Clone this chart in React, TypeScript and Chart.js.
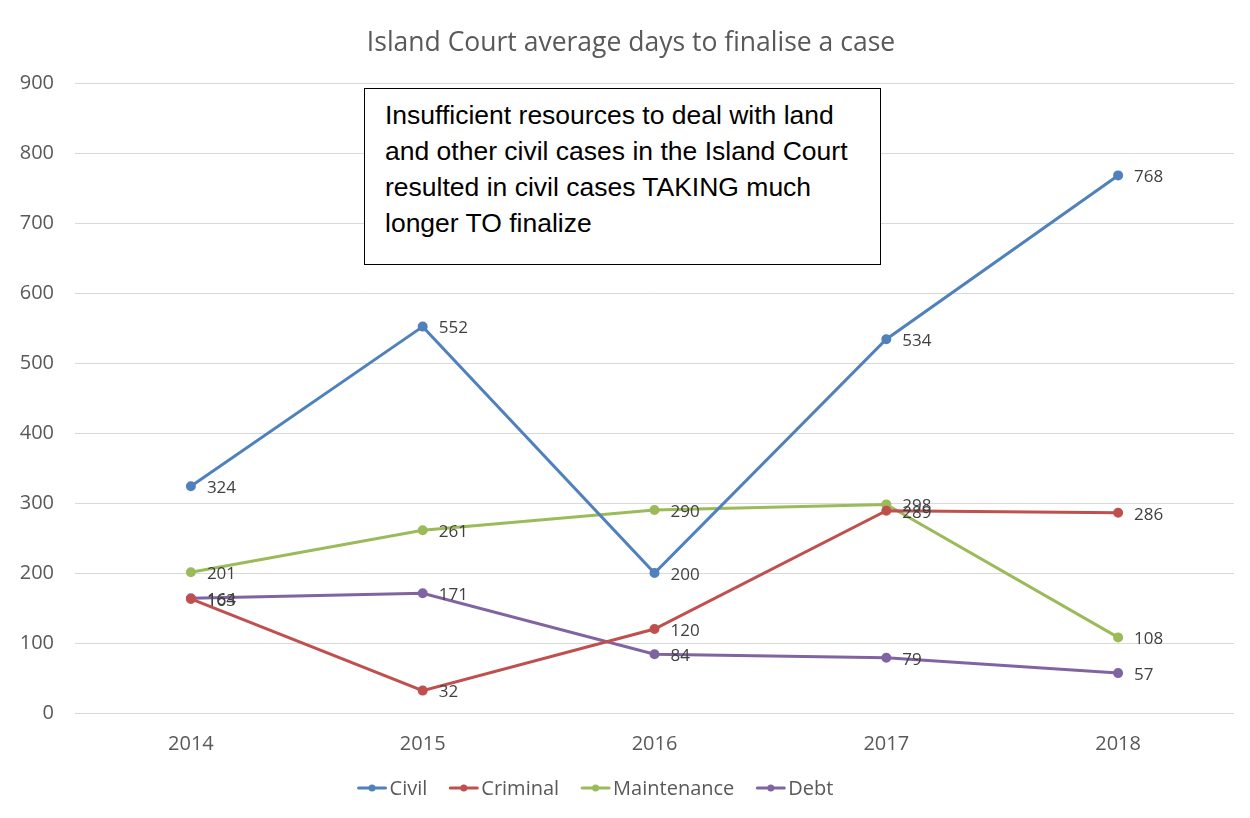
import React, { useEffect, useRef } from "react";
import { Chart, registerables } from "chart.js";

Chart.register(...registerables);

const years = ["2014", "2015", "2016", "2017", "2018"];
const civil = [324, 552, 200, 534, 768];
const criminal = [163, 32, 120, 289, 286];
const maintenance = [201, 261, 290, 298, 108];
const debt = [164, 171, 84, 79, 57];
const yTicks = [0, 100, 200, 300, 400, 500, 600, 700, 800, 900];

const seriesNames = ["Civil", "Criminal", "Maintenance", "Debt"];
const seriesColors = ["#4f81bd", "#c0504d", "#9bbb59", "#8064a2"];

const titleText = "Island Court average days to finalise a case";
const noteLines = [
  "Insufficient resources to deal with land",
  "and other civil cases in the Island Court",
  "resulted in civil cases TAKING much",
  "longer TO finalize",
];

const FONT = "'Open Sans', sans-serif";

const dataLabelPlugin = {
  id: "dataLabels",
  afterDatasetsDraw(chart: any) {
    const ctx = chart.ctx;
    ctx.save();
    ctx.font = `17px ${FONT}`;
    ctx.fillStyle = "#404040";
    ctx.textAlign = "left";
    ctx.textBaseline = "middle";
    chart.data.datasets.forEach((ds: any, di: number) => {
      const meta = chart.getDatasetMeta(di);
      meta.data.forEach((pt: any, i: number) => {
        ctx.fillText(String(ds.data[i]), pt.x + 16, pt.y + 2);
      });
    });
    ctx.restore();
  },
};

// Title drawn at the reference's (slightly off-centre) position.
const titlePlugin = {
  id: "offsetTitle",
  afterDraw(chart: any) {
    const ctx = chart.ctx;
    ctx.save();
    ctx.font = `26.5px ${FONT}`;
    ctx.fillStyle = "#595959";
    ctx.textAlign = "center";
    ctx.textBaseline = "middle";
    ctx.fillText(titleText, 623, 35);
    ctx.restore();
  },
};

// Legend drawn as line-with-dot markers, centred like the reference.
const legendPlugin = {
  id: "lineLegend",
  afterDraw(chart: any) {
    const ctx = chart.ctx;
    ctx.save();
    ctx.font = `20px ${FONT}`;
    ctx.textBaseline = "middle";
    ctx.textAlign = "left";
    const markerW = 29;
    const gapText = 3;
    const gapItem = 22;
    const widths = chart.data.datasets.map(
      (ds: any) => markerW + gapText + ctx.measureText(ds.label).width
    );
    const total =
      widths.reduce((a: number, b: number) => a + b, 0) +
      gapItem * (widths.length - 1);
    const centerX = 587.5;
    const y = 780;
    let x = centerX - total / 2;
    chart.data.datasets.forEach((ds: any, i: number) => {
      const color = ds.borderColor;
      ctx.strokeStyle = color;
      ctx.lineWidth = 3;
      ctx.lineCap = "round";
      ctx.beginPath();
      ctx.moveTo(x + 1, y);
      ctx.lineTo(x + markerW - 1, y);
      ctx.stroke();
      ctx.fillStyle = color;
      ctx.beginPath();
      ctx.arc(x + markerW / 2, y, 3.5, 0, Math.PI * 2);
      ctx.fill();
      ctx.fillStyle = "#595959";
      ctx.fillText(ds.label, x + markerW + gapText, y + 1);
      x += widths[i] + gapItem;
    });
    ctx.restore();
  },
};

export default function App() {
  const ref = useRef<HTMLCanvasElement | null>(null);

  useEffect(() => {
    if (!ref.current) return;
    const all = [civil, criminal, maintenance, debt];
    const chart = new Chart(ref.current, {
      type: "line",
      data: {
        labels: years,
        datasets: all.map((d, i) => ({
          label: seriesNames[i],
          data: d,
          borderColor: seriesColors[i],
          backgroundColor: seriesColors[i],
          pointBackgroundColor: seriesColors[i],
          pointBorderColor: seriesColors[i],
          pointStyle: "circle",
          borderWidth: 3,
          pointRadius: 3.5,
          tension: 0,
          fill: false,
        })),
      },
      options: {
        animation: false,
        responsive: false,
        maintainAspectRatio: false,
        layout: { padding: { top: 75, left: 0, right: 17, bottom: 63 } },
        plugins: {
          title: { display: false },
          legend: { display: false },
          tooltip: { enabled: false },
        },
        scales: {
          x: {
            offset: true,
            grid: { display: false, drawTicks: false },
            border: { display: false },
            afterFit: (scale: any) => {
              scale.height = 43;
            },
            ticks: {
              color: "#595959",
              font: { family: FONT, size: 20 },
              padding: 19,
            },
          },
          y: {
            min: 0,
            max: 900,
            afterBuildTicks: (scale: any) => {
              scale.ticks = yTicks.map((v) => ({ value: v }));
            },
            afterFit: (scale: any) => {
              scale.width = 67;
            },
            grid: { color: "#d9d9d9", lineWidth: 1, drawTicks: false },
            border: { display: false },
            ticks: {
              color: "#595959",
              font: { family: FONT, size: 20 },
              padding: 21,
            },
          },
        },
      },
      plugins: [dataLabelPlugin, titlePlugin, legendPlugin],
    });
    return () => chart.destroy();
  }, []);

  return (
    <div
      style={{
        position: "relative",
        left: -1,
        top: -1,
        width: 1243,
        height: 811,
        borderTop: "1px solid #d9d9d9",
        borderLeft: "1px solid #d9d9d9",
        background: "#fff",
        overflow: "hidden",
      }}
    >
      <canvas ref={ref} width={1243} height={811} style={{ display: "block" }} />
      <div
        style={{
          position: "absolute",
          left: 356,
          top: 80,
          width: 515,
          height: 175,
          border: "1px solid #000",
          background: "#fff",
          boxSizing: "content-box",
          padding: 0,
        }}
      >
        <div
          style={{
            position: "absolute",
            left: 20,
            top: 8,
            fontFamily: "'Liberation Sans', Arial, sans-serif",
            fontSize: 26.5,
            lineHeight: "36px",
            color: "#000",
            whiteSpace: "nowrap",
          }}
        >
          {noteLines.map((l, i) => (
            <div key={i}>{l}</div>
          ))}
        </div>
      </div>
    </div>
  );
}
